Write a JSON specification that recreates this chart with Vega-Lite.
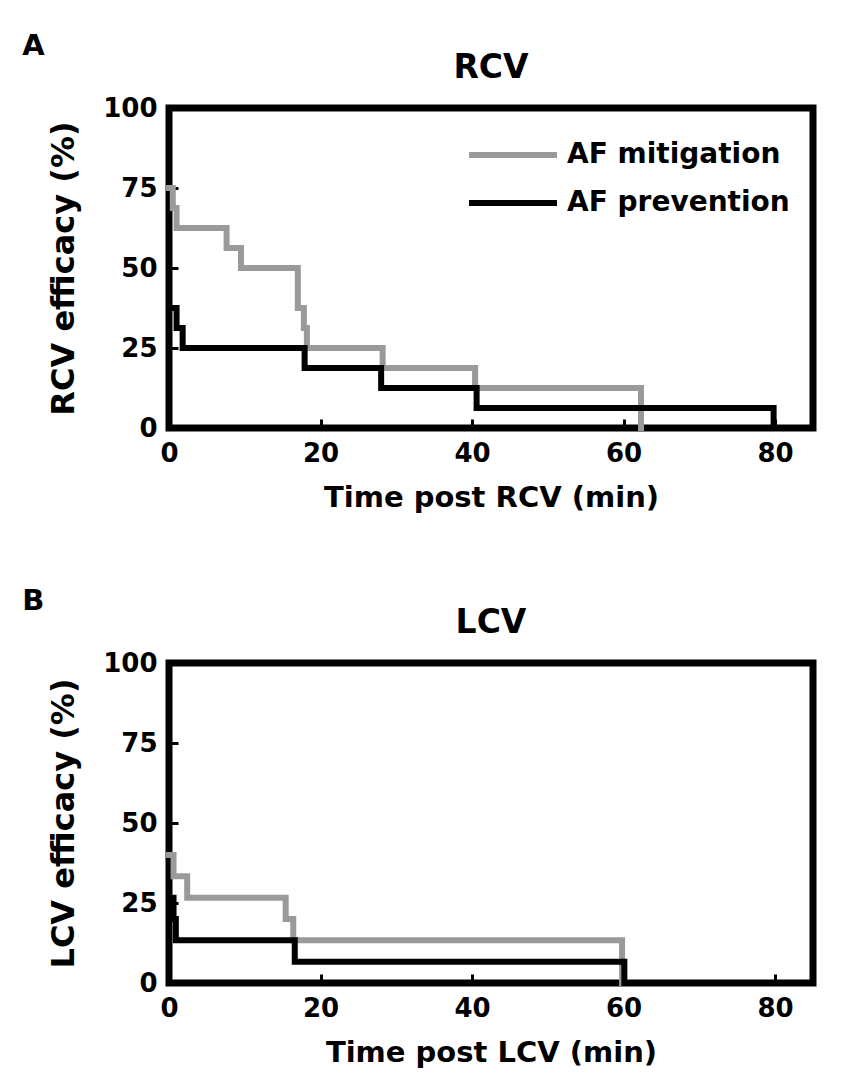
{
  "$schema": "https://vega.github.io/schema/vega-lite/v6.json",
  "background": "white",
  "padding": {"left": 22, "top": 31, "right": 5, "bottom": 5},
  "config": {
    "view": {"stroke": "black", "strokeWidth": 7},
    "font": "DejaVu Sans",
    "axis": {
      "domain": false,
      "grid": false,
      "zindex": 1,
      "offset": -9,
      "ticks": true,
      "tickColor": "black",
      "tickWidth": 3,
      "tickSize": 9,
      "labelFlush": false,
      "labelFont": "DejaVu Sans",
      "labelFontWeight": "bold",
      "labelFontSize": 26,
      "labelColor": "black",
      "labelPadding": 12,
      "titleFont": "DejaVu Sans",
      "titleFontWeight": "bold",
      "titleColor": "black"
    },
    "legend": {"labelLimit": 0},
    "title": {"font": "DejaVu Sans", "fontWeight": "bold", "color": "black"}
  },
  "datasets": {
    "rcv": [
      {"group": "AF mitigation", "t": 0, "eff": 75},
      {"group": "AF mitigation", "t": 0.5, "eff": 68.75},
      {"group": "AF mitigation", "t": 1.0, "eff": 62.5},
      {"group": "AF mitigation", "t": 7.6, "eff": 56.25},
      {"group": "AF mitigation", "t": 9.5, "eff": 50},
      {"group": "AF mitigation", "t": 17.0, "eff": 37.5},
      {"group": "AF mitigation", "t": 17.8, "eff": 31.25},
      {"group": "AF mitigation", "t": 18.2, "eff": 25},
      {"group": "AF mitigation", "t": 28.2, "eff": 18.75},
      {"group": "AF mitigation", "t": 40.4, "eff": 12.5},
      {"group": "AF mitigation", "t": 62.3, "eff": 0},
      {"group": "AF prevention", "t": 0, "eff": 37.5},
      {"group": "AF prevention", "t": 1.0, "eff": 31.25},
      {"group": "AF prevention", "t": 1.8, "eff": 25},
      {"group": "AF prevention", "t": 17.9, "eff": 18.75},
      {"group": "AF prevention", "t": 28.0, "eff": 12.5},
      {"group": "AF prevention", "t": 40.6, "eff": 6.25},
      {"group": "AF prevention", "t": 79.8, "eff": 0}
    ],
    "lcv": [
      {"group": "AF mitigation", "t": 0, "eff": 40},
      {"group": "AF mitigation", "t": 0.6, "eff": 33.33},
      {"group": "AF mitigation", "t": 2.4, "eff": 26.67},
      {"group": "AF mitigation", "t": 15.4, "eff": 20},
      {"group": "AF mitigation", "t": 16.4, "eff": 13.33},
      {"group": "AF mitigation", "t": 59.8, "eff": 0},
      {"group": "AF prevention", "t": 0, "eff": 26.67},
      {"group": "AF prevention", "t": 0.6, "eff": 20},
      {"group": "AF prevention", "t": 0.9, "eff": 13.33},
      {"group": "AF prevention", "t": 16.6, "eff": 6.67},
      {"group": "AF prevention", "t": 60.1, "eff": 0}
    ]
  },
  "spacing": 70,
  "resolve": {"legend": {"color": "independent"}},
  "vconcat": [
    {
      "title": {"text": "A", "anchor": "start", "fontSize": 29, "dx": -22, "offset": -12},
      "resolve": {"legend": {"color": "independent"}},
      "vconcat": [
        {
          "width": 644,
          "height": 320,
          "title": {"text": "RCV", "fontSize": 33, "offset": 10},
          "data": {"name": "rcv"},
          "mark": {"type": "line", "interpolate": "step-after", "strokeWidth": 6, "strokeCap": "square", "strokeJoin": "miter"},
          "encoding": {
            "x": {"field": "t", "type": "quantitative", "scale": {"domain": [0, 85], "nice": false},
                  "axis": {"values": [0, 20, 40, 60, 80], "title": "Time post RCV (min)", "titleFontSize": 29, "titlePadding": 17}},
            "y": {"field": "eff", "type": "quantitative", "scale": {"domain": [0, 100], "nice": false},
                  "axis": {"values": [0, 25, 50, 75, 100], "title": "RCV efficacy (%)", "titleFontSize": 32, "titlePadding": 22}},
            "color": {"field": "group", "type": "nominal",
                      "scale": {"domain": ["AF mitigation", "AF prevention"], "range": ["#9a9a9a", "#000000"]},
                      "legend": {"orient": "none", "legendX": 330, "legendY": 33, "padding": 0, "title": null,
                                 "symbolType": "M-4,0H4", "symbolSize": 484, "symbolStrokeWidth": 6,
                                 "labelFont": "DejaVu Sans", "labelFontWeight": "bold", "labelFontSize": 28,
                                 "labelColor": "black", "labelOffset": 40, "rowPadding": 20, "labelLimit": 0}}
          }
        }
      ]
    },
    {
      "title": {"text": "B", "anchor": "start", "fontSize": 29, "dx": -22, "offset": -12},
      "resolve": {"legend": {"color": "independent"}},
      "vconcat": [
        {
          "width": 644,
          "height": 320,
          "title": {"text": "LCV", "fontSize": 33, "offset": 10},
          "data": {"name": "lcv"},
          "mark": {"type": "line", "interpolate": "step-after", "strokeWidth": 6, "strokeCap": "square", "strokeJoin": "miter"},
          "encoding": {
            "x": {"field": "t", "type": "quantitative", "scale": {"domain": [0, 85], "nice": false},
                  "axis": {"values": [0, 20, 40, 60, 80], "title": "Time post LCV (min)", "titleFontSize": 29, "titlePadding": 17}},
            "y": {"field": "eff", "type": "quantitative", "scale": {"domain": [0, 100], "nice": false},
                  "axis": {"values": [0, 25, 50, 75, 100], "title": "LCV efficacy (%)", "titleFontSize": 32, "titlePadding": 22}},
            "color": {"field": "group", "type": "nominal",
                      "scale": {"domain": ["AF mitigation", "AF prevention"], "range": ["#9a9a9a", "#000000"]},
                      "legend": null}
          }
        }
      ]
    }
  ]
}
